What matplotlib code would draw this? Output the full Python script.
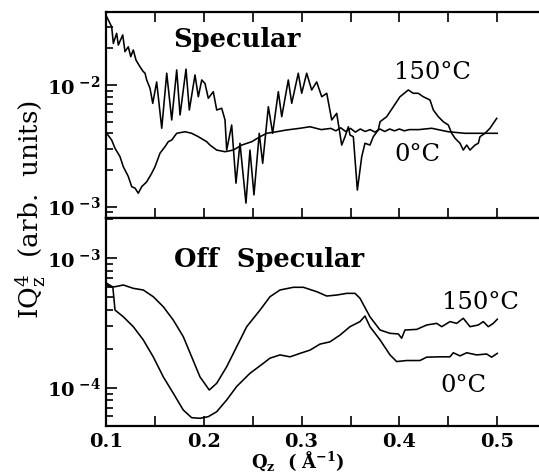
import numpy as np
import matplotlib
matplotlib.use('Agg')
import matplotlib.pyplot as plt
from matplotlib.ticker import MultipleLocator, LogLocator, NullFormatter

plt.rcParams['font.family'] = ['DejaVu Serif']
plt.rcParams['mathtext.fontset'] = 'dejavuserif'

# ---------------- data ----------------
# Specular, 150 C
spec150_q = [0.1007, 0.1058, 0.1075, 0.1109, 0.1126, 0.1171, 0.1194, 0.1228, 0.1253, 0.1279,
             0.1307, 0.1348, 0.1381, 0.1399, 0.1416, 0.1450, 0.1478, 0.1518, 0.1570, 0.1621,
             0.1672, 0.1723, 0.1757, 0.1818, 0.1852, 0.1910, 0.1944, 0.1979, 0.2012, 0.2046,
             0.2097, 0.2132, 0.2183, 0.2217, 0.2234, 0.2285, 0.2329, 0.2370, 0.2431, 0.2472,
             0.2513, 0.2567, 0.2602, 0.2660, 0.2704, 0.2762, 0.2797, 0.2864, 0.2899, 0.2966,
             0.3001, 0.3052, 0.3103, 0.3154, 0.3206, 0.3257, 0.3308, 0.3359, 0.3410, 0.3444,
             0.3478, 0.3495, 0.3529, 0.3570, 0.3615, 0.3648, 0.3699, 0.3733, 0.3784, 0.3802,
             0.3870, 0.3938, 0.4006, 0.4091, 0.4142, 0.4193, 0.4244, 0.4313, 0.4347, 0.4398,
             0.4449, 0.4500, 0.4535, 0.4569, 0.4620, 0.4653, 0.4688, 0.4722, 0.4773, 0.4807,
             0.4824, 0.4875, 0.4926, 0.4995]
spec150_i = [3.64e-2, 3.01e-2, 2.20e-2, 2.66e-2, 2.13e-2, 2.58e-2, 1.88e-2, 2.06e-2, 1.71e-2, 1.94e-2,
             1.60e-2, 1.41e-2, 1.29e-2, 1.25e-2, 1.10e-2, 9.4e-3, 7.07e-3, 1.06e-2, 4.41e-3, 1.25e-2,
             5.16e-3, 1.33e-2, 5.67e-3, 1.35e-2, 6.23e-3, 1.21e-2, 8.01e-3, 1.10e-2, 1.03e-2, 7.78e-3,
             8.81e-3, 6.23e-3, 6.44e-3, 5.16e-3, 2.92e-3, 4.69e-3, 1.56e-3, 3.32e-3, 1.07e-3, 2.92e-3,
             1.25e-3, 4.01e-3, 2.27e-3, 6.63e-3, 4.01e-3, 8.81e-3, 5.49e-3, 1.10e-2, 7.07e-3, 1.25e-2,
             8.55e-3, 1.25e-2, 9.10e-3, 1.06e-2, 8.01e-3, 8.55e-3, 5.16e-3, 5.85e-3, 3.21e-3, 3.76e-3,
             4.54e-3, 3.88e-3, 3.76e-3, 1.37e-3, 2.58e-3, 3.32e-3, 3.21e-3, 3.76e-3, 4.27e-3, 4.99e-3,
             5.49e-3, 6.63e-3, 8.01e-3, 9.10e-3, 8.55e-3, 8.55e-3, 8.01e-3, 7.53e-3, 6.23e-3, 5.49e-3,
             4.99e-3, 4.69e-3, 4.01e-3, 3.65e-3, 3.32e-3, 2.92e-3, 3.21e-3, 2.92e-3, 3.21e-3, 3.32e-3,
             3.76e-3, 4.01e-3, 4.41e-3, 5.32e-3]

# Specular, 0 C
spec0_q = [0.1007, 0.1058, 0.1092, 0.1143, 0.1177, 0.1228, 0.1263, 0.1297, 0.1330, 0.1365,
           0.1416, 0.1467, 0.1501, 0.1552, 0.1603, 0.1637, 0.1672, 0.1723, 0.1808, 0.1876,
           0.1944, 0.2030, 0.2063, 0.2132, 0.2217, 0.2302, 0.2388, 0.2490, 0.2575, 0.2643,
           0.2745, 0.2848, 0.2984, 0.3086, 0.3200, 0.3300, 0.3350, 0.3400, 0.3450, 0.3500,
           0.3550, 0.3600, 0.3650, 0.3700, 0.3750, 0.3800, 0.3850, 0.3900, 0.3950, 0.4000,
           0.4050, 0.4100, 0.4200, 0.4330, 0.4500, 0.4670, 0.4830, 0.5000]
spec0_i = [4.01e-3, 3.53e-3, 3.02e-3, 2.58e-3, 2.13e-3, 1.77e-3, 1.46e-3, 1.42e-3, 1.29e-3, 1.46e-3,
           1.60e-3, 1.88e-3, 2.13e-3, 2.75e-3, 3.11e-3, 3.42e-3, 3.53e-3, 4.01e-3, 4.13e-3, 4.01e-3,
           3.76e-3, 3.42e-3, 3.21e-3, 2.92e-3, 2.83e-3, 2.92e-3, 3.21e-3, 3.42e-3, 3.76e-3, 4.01e-3,
           4.13e-3, 4.27e-3, 4.41e-3, 4.54e-3, 4.30e-3, 4.40e-3, 4.20e-3, 4.45e-3, 4.15e-3, 4.40e-3,
           4.10e-3, 4.35e-3, 4.15e-3, 4.30e-3, 4.10e-3, 4.35e-3, 4.15e-3, 4.35e-3, 4.20e-3, 4.35e-3,
           4.20e-3, 4.30e-3, 4.30e-3, 4.41e-3, 4.13e-3, 4.01e-3, 4.01e-3, 4.01e-3]

# Off specular, 150 C
off150_q = [0.1007, 0.1040, 0.1092, 0.1177, 0.1279, 0.1381, 0.1483, 0.1586, 0.1688, 0.1790,
            0.1876, 0.1961, 0.2056, 0.2132, 0.2234, 0.2336, 0.2439, 0.2575, 0.2677, 0.2779,
            0.2916, 0.3018, 0.3155, 0.3257, 0.3359, 0.3461, 0.3546, 0.3597, 0.3699, 0.3802,
            0.3904, 0.3989, 0.4023, 0.4057, 0.4177, 0.4279, 0.4381, 0.4433, 0.4517, 0.4586,
            0.4653, 0.4722, 0.4807, 0.4858, 0.4909, 0.4960, 0.5001]
off150_i = [6.22e-4, 6.03e-4, 6.03e-4, 6.22e-4, 5.86e-4, 5.69e-4, 5.05e-4, 4.22e-4, 3.33e-4, 2.48e-4,
            1.73e-4, 1.21e-4, 9.58e-5, 1.08e-4, 1.45e-4, 2.07e-4, 2.96e-4, 3.98e-4, 5.05e-4, 5.69e-4,
            5.97e-4, 5.97e-4, 5.52e-4, 5.11e-4, 5.20e-4, 5.36e-4, 5.36e-4, 4.91e-4, 3.53e-4, 2.79e-4,
            2.63e-4, 2.60e-4, 2.41e-4, 2.79e-4, 2.82e-4, 3.05e-4, 3.14e-4, 2.96e-4, 3.24e-4, 3.14e-4,
            3.44e-4, 2.96e-4, 3.05e-4, 3.24e-4, 2.96e-4, 3.14e-4, 3.38e-4]

# Off specular, 0 C
off0_q = [0.1007, 0.1070, 0.1092, 0.1177, 0.1279, 0.1381, 0.1483, 0.1586, 0.1688, 0.1790,
          0.1876, 0.1961, 0.2046, 0.2132, 0.2234, 0.2336, 0.2472, 0.2608, 0.2677, 0.2779,
          0.2882, 0.2984, 0.3086, 0.3188, 0.3290, 0.3393, 0.3495, 0.3597, 0.3648, 0.3699,
          0.3802, 0.3904, 0.3972, 0.4074, 0.4210, 0.4279, 0.4415, 0.4517, 0.4551, 0.4620,
          0.4688, 0.4790, 0.4892, 0.4943, 0.5001]
off0_i = [6.41e-4, 6.00e-4, 3.98e-4, 3.53e-4, 2.96e-4, 2.34e-4, 1.73e-4, 1.21e-4, 9.04e-5, 6.71e-5,
          5.85e-5, 5.79e-5, 5.96e-5, 6.51e-5, 8.02e-5, 1.02e-4, 1.29e-4, 1.54e-4, 1.69e-4, 1.79e-4,
          1.73e-4, 1.84e-4, 1.95e-4, 2.17e-4, 2.26e-4, 2.55e-4, 2.96e-4, 3.24e-4, 3.58e-4, 2.96e-4,
          2.34e-4, 1.79e-4, 1.59e-4, 1.62e-4, 1.62e-4, 1.72e-4, 1.73e-4, 1.73e-4, 1.86e-4, 1.76e-4,
          1.86e-4, 1.79e-4, 1.82e-4, 1.72e-4, 1.84e-4]

x_ticks = [0.1, 0.2, 0.3, 0.4, 0.5]
x_tick_labels = ['0.1', '0.2', '0.3', '0.4', '0.5']
top_yticks = [1e-3, 1e-2]
top_ylabels = [r'$\mathbf{10}^{\ \mathbf{-3}}$', r'$\mathbf{10}^{\ \mathbf{-2}}$']
bot_yticks = [1e-4, 1e-3]
bot_ylabels = [r'$\mathbf{10}^{\ \mathbf{-4}}$', r'$\mathbf{10}^{\ \mathbf{-3}}$']

# ---------------- figure ----------------
W, H = 539, 475
fig = plt.figure(figsize=(W / 100, H / 100), dpi=100)

left = 106 / W
width = 440.1 / W
ax1 = fig.add_axes([left, (H - 218) / H, width, 206 / H])
ax2 = fig.add_axes([left, (H - 426) / H, width, 208 / H])

lw = 1.15
ax1.plot(spec150_q, spec150_i, color='black', lw=lw)
ax1.plot(spec0_q, spec0_i, color='black', lw=lw)
ax2.plot(off150_q, off150_i, color='black', lw=lw)
ax2.plot(off0_q, off0_i, color='black', lw=lw)

for ax in (ax1, ax2):
    ax.set_yscale('log')
    ax.set_xlim(0.1, 0.55)
    ax.xaxis.set_major_locator(MultipleLocator(0.1))
    ax.xaxis.set_minor_locator(MultipleLocator(0.05))
    ax.yaxis.set_minor_locator(LogLocator(base=10, subs=np.arange(2, 10)))
    ax.yaxis.set_minor_formatter(NullFormatter())
    ax.tick_params(which='both', direction='in', width=1.2, right=False)
    ax.tick_params(which='major', length=8)
    ax.tick_params(which='minor', length=5)
    ax.tick_params(axis='x', which='both', length=7)
    for s in ax.spines.values():
        s.set_linewidth(1.6)

ax1.set_ylim(10 ** -3.093, 10 ** -1.400)
ax2.set_ylim(10 ** -4.297, 10 ** -2.688)

ax1.tick_params(axis='x', which='both', top=True, bottom=True, labelbottom=False)
ax2.tick_params(axis='x', which='both', top=False, bottom=True)

ax1.set_yticks(top_yticks)
ax1.set_yticklabels(top_ylabels)
ax2.set_yticks(bot_yticks)
ax2.set_yticklabels(bot_ylabels)
for ax in (ax1, ax2):
    ax.tick_params(axis='y', which='major', labelsize=14, pad=4)

ax2.set_xticks(x_ticks)
ax2.set_xticklabels(x_tick_labels, fontsize=14, fontweight='bold')
ax2.tick_params(axis='x', pad=5)

# texts
ax1.text(0.152, 0.865, 'Specular', transform=ax1.transAxes, fontsize=18.5,
         fontweight='bold', ha='left', va='center')
ax1.text(0.655, 0.705, '150°C', transform=ax1.transAxes, fontsize=17.5,
         ha='left', va='center')
ax1.text(0.655, 0.31, '0°C', transform=ax1.transAxes, fontsize=17.5,
         ha='left', va='center')
ax2.text(0.154, 0.80, 'Off  Specular', transform=ax2.transAxes, fontsize=18.5,
         fontweight='bold', ha='left', va='center')
ax2.text(0.763, 0.595, '150°C', transform=ax2.transAxes, fontsize=17.5,
         ha='left', va='center')
ax2.text(0.759, 0.197, '0°C', transform=ax2.transAxes, fontsize=17.5,
         ha='left', va='center')

fig.text(31 / W, 1 - 210 / H, r'IQ$_\mathregular{z}^{\mathregular{4}}$  (arb.  units)',
         rotation=90, fontsize=19, ha='center', va='center')
fig.text(298 / W, 1 - 461 / H, r'$\mathbf{Q_z}$  ( Å$^{\mathbf{-1}}$)', fontsize=13,
         fontweight='bold', ha='center', va='center')

fig.savefig('out.png', dpi=100)
